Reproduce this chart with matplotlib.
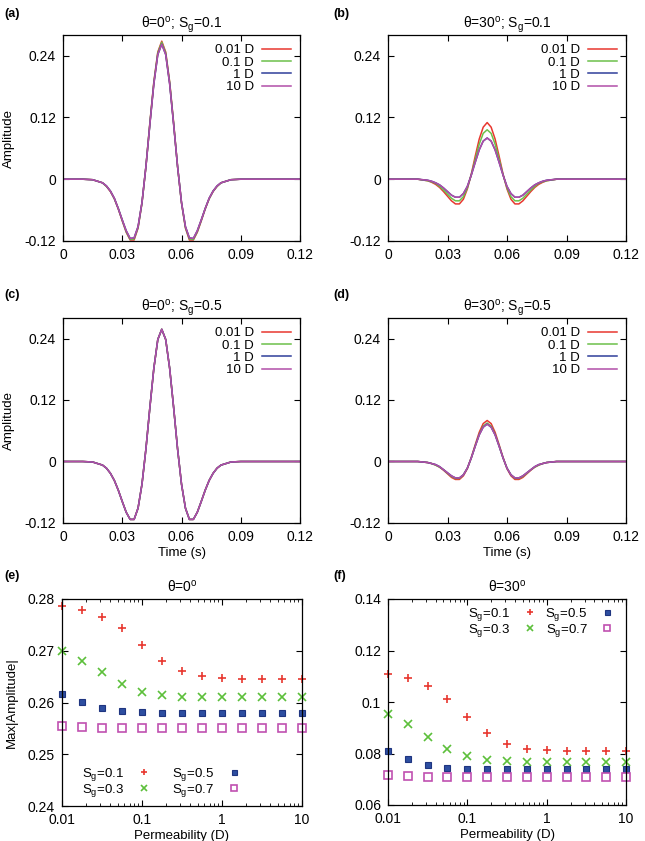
import matplotlib
matplotlib.use("Agg")
import matplotlib.pyplot as plt
from matplotlib.ticker import LogLocator, NullFormatter

plt.rcParams['font.family'] = ['Liberation Sans', 'DejaVu Sans']
plt.rcParams['mathtext.fontset'] = 'custom'
plt.rcParams['mathtext.rm'] = 'Liberation Sans'
plt.rcParams['mathtext.it'] = 'Liberation Sans:italic'
plt.rcParams['font.size'] = 10

# time axis (s)
time = [0, 0.010, 0.015, 0.020, 0.022, 0.024, 0.026, 0.028, 0.030, 0.032, 0.034,
        0.036, 0.038, 0.040, 0.042, 0.044, 0.046, 0.048, 0.050, 0.052, 0.054,
        0.056, 0.058, 0.060, 0.062, 0.064, 0.066, 0.068, 0.070, 0.072, 0.074,
        0.076, 0.078, 0.080, 0.085, 0.090, 0.120]

perm_labels = ["0.01 D", "0.1 D", "1 D", "10 D"]

# (a) theta=0, Sg=0.1
a_001 = [0, 0, -0.001, -0.007, -0.014, -0.024, -0.038, -0.058, -0.081, -0.103, -0.118, -0.118,
         -0.095, -0.046, 0.025, 0.110, 0.189, 0.247, 0.268, 0.247, 0.189, 0.110, 0.025, -0.046,
         -0.095, -0.118, -0.118, -0.103, -0.081, -0.058, -0.038, -0.024, -0.014, -0.007, -0.001, 0, 0]
a_01 = [0, 0, -0.001, -0.007, -0.014, -0.023, -0.038, -0.057, -0.080, -0.102, -0.117, -0.116,
        -0.094, -0.046, 0.025, 0.109, 0.188, 0.245, 0.266, 0.245, 0.188, 0.109, 0.025, -0.046,
        -0.094, -0.116, -0.117, -0.102, -0.080, -0.057, -0.038, -0.023, -0.014, -0.007, -0.001, 0, 0]
a_1 = [0, 0, -0.001, -0.007, -0.013, -0.023, -0.037, -0.057, -0.079, -0.100, -0.115, -0.114,
       -0.092, -0.045, 0.025, 0.107, 0.185, 0.242, 0.262, 0.242, 0.185, 0.107, 0.025, -0.045,
       -0.092, -0.114, -0.115, -0.100, -0.079, -0.057, -0.037, -0.023, -0.013, -0.007, -0.001, 0, 0]
a_10 = [0, 0, -0.001, -0.007, -0.013, -0.023, -0.037, -0.057, -0.079, -0.100, -0.115, -0.114,
        -0.092, -0.045, 0.025, 0.107, 0.185, 0.242, 0.262, 0.242, 0.185, 0.107, 0.025, -0.045,
        -0.092, -0.114, -0.115, -0.100, -0.079, -0.057, -0.037, -0.023, -0.013, -0.007, -0.001, 0, 0]

# (b) theta=30, Sg=0.1
b_001 = [0, 0, 0, -0.003, -0.006, -0.010, -0.016, -0.024, -0.033, -0.042, -0.048, -0.048,
         -0.039, -0.019, 0.010, 0.045, 0.078, 0.101, 0.110, 0.101, 0.078, 0.045, 0.010, -0.019,
         -0.039, -0.048, -0.048, -0.042, -0.033, -0.024, -0.016, -0.010, -0.006, -0.003, 0, 0, 0]
b_01 = [0, 0, 0, -0.003, -0.005, -0.008, -0.014, -0.021, -0.029, -0.037, -0.042, -0.042,
        -0.034, -0.017, 0.009, 0.039, 0.068, 0.089, 0.096, 0.089, 0.068, 0.039, 0.009, -0.017,
        -0.034, -0.042, -0.042, -0.037, -0.029, -0.021, -0.014, -0.008, -0.005, -0.003, 0, 0, 0]
b_1 = [0, 0, 0, -0.002, -0.004, -0.007, -0.011, -0.017, -0.024, -0.031, -0.035, -0.035,
       -0.028, -0.014, 0.008, 0.033, 0.057, 0.074, 0.080, 0.074, 0.057, 0.033, 0.008, -0.014,
       -0.028, -0.035, -0.035, -0.031, -0.024, -0.017, -0.011, -0.007, -0.004, -0.002, 0, 0, 0]
b_10 = [0, 0, 0, -0.002, -0.004, -0.007, -0.011, -0.017, -0.024, -0.031, -0.035, -0.035,
        -0.028, -0.014, 0.008, 0.033, 0.057, 0.074, 0.080, 0.074, 0.057, 0.033, 0.008, -0.014,
        -0.028, -0.035, -0.035, -0.031, -0.024, -0.017, -0.011, -0.007, -0.004, -0.002, 0, 0, 0]

# (c) theta=0, Sg=0.5
c_001 = [0, 0, -0.001, -0.007, -0.013, -0.023, -0.037, -0.056, -0.078, -0.099, -0.113, -0.113,
         -0.091, -0.044, 0.025, 0.106, 0.182, 0.238, 0.258, 0.238, 0.182, 0.106, 0.025, -0.044,
         -0.091, -0.113, -0.113, -0.099, -0.078, -0.056, -0.037, -0.023, -0.013, -0.007, -0.001, 0, 0]
c_01 = list(c_001)
c_1 = list(c_001)
c_10 = list(c_001)

# (d) theta=30, Sg=0.5
d_001 = [0, 0, 0, -0.002, -0.004, -0.007, -0.011, -0.017, -0.024, -0.031, -0.035, -0.035,
         -0.028, -0.014, 0.008, 0.033, 0.057, 0.074, 0.080, 0.074, 0.057, 0.033, 0.008, -0.014,
         -0.028, -0.035, -0.035, -0.031, -0.024, -0.017, -0.011, -0.007, -0.004, -0.002, 0, 0, 0]
d_01 = [0, 0, 0, -0.002, -0.004, -0.007, -0.011, -0.016, -0.023, -0.029, -0.033, -0.033,
        -0.026, -0.013, 0.007, 0.031, 0.053, 0.069, 0.075, 0.069, 0.053, 0.031, 0.007, -0.013,
        -0.026, -0.033, -0.033, -0.029, -0.023, -0.016, -0.011, -0.007, -0.004, -0.002, 0, 0, 0]
d_1 = [0, 0, 0, -0.002, -0.004, -0.006, -0.010, -0.016, -0.022, -0.028, -0.032, -0.032,
       -0.026, -0.013, 0.007, 0.030, 0.052, 0.067, 0.073, 0.067, 0.052, 0.030, 0.007, -0.013,
       -0.026, -0.032, -0.032, -0.028, -0.022, -0.016, -0.010, -0.006, -0.004, -0.002, 0, 0, 0]
d_10 = list(d_1)

# (e), (f) peak amplitude vs permeability
perm = [0.01, 0.0178, 0.0316, 0.0562, 0.1, 0.178, 0.316, 0.562, 1, 1.78, 3.16, 5.62, 10]
e_sg01 = [0.2786, 0.2779, 0.2765, 0.2743, 0.2712, 0.2681, 0.2661, 0.2651, 0.2647, 0.2645, 0.2645, 0.2645, 0.2645]
e_sg03 = [0.2700, 0.2681, 0.2658, 0.2636, 0.2620, 0.2614, 0.2611, 0.2610, 0.2610, 0.2610, 0.2610, 0.2610, 0.2610]
e_sg05 = [0.2617, 0.2601, 0.2589, 0.2584, 0.2581, 0.2580, 0.2580, 0.2580, 0.2580, 0.2580, 0.2580, 0.2580, 0.2580]
e_sg07 = [0.2555, 0.2553, 0.2551, 0.2551, 0.2551, 0.2551, 0.2551, 0.2551, 0.2551, 0.2551, 0.2551, 0.2551, 0.2551]
f_sg01 = [0.1107, 0.1092, 0.1062, 0.1012, 0.0943, 0.0880, 0.0837, 0.0817, 0.0812, 0.0811, 0.0811, 0.0811, 0.0808]
f_sg03 = [0.0955, 0.0915, 0.0864, 0.0817, 0.0789, 0.0775, 0.0770, 0.0768, 0.0768, 0.0768, 0.0768, 0.0768, 0.0768]
f_sg05 = [0.0811, 0.0779, 0.0757, 0.0745, 0.0740, 0.0739, 0.0739, 0.0739, 0.0739, 0.0739, 0.0739, 0.0739, 0.0739]
f_sg07 = [0.0718, 0.0711, 0.0709, 0.0709, 0.0709, 0.0709, 0.0709, 0.0709, 0.0709, 0.0709, 0.0709, 0.0709, 0.0709]
sg_labels = ["S$_\\mathrm{g}$=0.1", "S$_\\mathrm{g}$=0.3", "S$_\\mathrm{g}$=0.5", "S$_\\mathrm{g}$=0.7"]

line_colors = ['#e8372f', '#6cc04a', '#2f3f9a', '#b24ea8']
pt_colors = ['#e8372f', '#5cbf3a', '#2d4ea0', '#c050b0']
pt_markers = ['+', 'x', 's', 's']

W, H = 645, 841
fig = plt.figure(figsize=(W / 100, H / 100), dpi=100)

def ax_at(x0, y0, x1, y1):
    return fig.add_axes([x0 / W, 1 - y1 / H, (x1 - x0) / W, (y1 - y0) / H])

def tag_at(x, y, s):
    fig.text(x / W, 1 - y / H, s, fontsize=9, fontweight='bold', va='center', ha='left')

def style(ax):
    ax.tick_params(direction='in', top=True, right=True, length=4, width=0.8, labelsize=10, pad=5)
    ax.tick_params(which='minor', direction='in', top=True, right=True, length=2, width=0.6)
    for s in ax.spines.values():
        s.set_linewidth(0.9)

wave_panels = [
    ("(a)", (4, 14), "θ=0$^\\mathrm{o}$; S$_\\mathrm{g}$=0.1", (63, 35, 300, 241), [a_001, a_01, a_1, a_10], True, False),
    ("(b)", (333, 14), "θ=30$^\\mathrm{o}$; S$_\\mathrm{g}$=0.1", (388, 35, 626, 241), [b_001, b_01, b_1, b_10], False, False),
    ("(c)", (4, 295), "θ=0$^\\mathrm{o}$; S$_\\mathrm{g}$=0.5", (63, 318, 300, 523), [c_001, c_01, c_1, c_10], True, True),
    ("(d)", (333, 295), "θ=30$^\\mathrm{o}$; S$_\\mathrm{g}$=0.5", (388, 318, 626, 523), [d_001, d_01, d_1, d_10], False, True),
]

for tag, tpos, title, box, curves, ylab, xlab in wave_panels:
    ax = ax_at(*box)
    for vals, lab, col in zip(curves, perm_labels, line_colors):
        ax.plot(time, vals, color=col, lw=1.1, label=lab)
    ax.set_xlim(0, 0.12)
    ax.set_ylim(-0.12, 0.28)
    ax.set_xticks([0, 0.03, 0.06, 0.09, 0.12])
    ax.set_xticklabels(["0", "0.03", "0.06", "0.09", "0.12"])
    ax.set_yticks([-0.12, 0, 0.12, 0.24])
    ax.set_yticklabels(["-0.12", "0", "0.12", "0.24"])
    style(ax)
    ax.set_title(title, fontsize=10, pad=5)
    if ylab:
        ax.set_ylabel("Amplitude", fontsize=9.5, labelpad=7)
    if xlab:
        ax.set_xlabel("Time (s)", fontsize=9.5, labelpad=2)
    ax.legend(loc='upper right', frameon=False, markerfirst=False, fontsize=9.5,
              handlelength=2.2, labelspacing=0.0, borderaxespad=0.3, handletextpad=0.6)
    tag_at(tpos[0], tpos[1], tag)

scatter_panels = [
    ("(e)", (4, 576), "θ=0$^\\mathrm{o}$", (62, 599, 302, 806), [e_sg01, e_sg03, e_sg05, e_sg07],
     (0.24, 0.28), [0.24, 0.25, 0.26, 0.27, 0.28], 'lower left', (0.085, 0.035), 1.5, True),
    ("(f)", (333, 576), "θ=30$^\\mathrm{o}$", (388, 599, 626, 805), [f_sg01, f_sg03, f_sg05, f_sg07],
     (0.06, 0.14), [0.06, 0.08, 0.1, 0.12, 0.14], 'upper right', (0.955, 0.965), 0.6, False),
]

for tag, tpos, title, box, series, ylim, yt, loc, anchor, colsp, ylab in scatter_panels:
    ax = ax_at(*box)
    for i, (vals, lab, col, mk) in enumerate(zip(series, sg_labels, pt_colors, pt_markers)):
        if i == 3:
            ax.plot(perm, vals, ls='none', marker=mk, ms=5.5, mfc='none', mec=col, mew=1.2,
                    label=lab, clip_on=False)
        elif i == 2:
            ax.plot(perm, vals, ls='none', marker=mk, ms=4.5, mfc=col, mec='#1f3580', mew=0.8,
                    label=lab, clip_on=False)
        else:
            ax.plot(perm, vals, ls='none', marker=mk, ms=6, color=col, mew=1.2, label=lab,
                    clip_on=False)
    ax.set_xscale('log')
    ax.set_xlim(0.01, 10)
    ax.set_ylim(*ylim)
    ax.set_xticks([0.01, 0.1, 1, 10])
    ax.set_xticklabels(["0.01", "0.1", "1", "10"])
    ax.xaxis.set_minor_locator(LogLocator(base=10, subs=range(2, 10)))
    ax.xaxis.set_minor_formatter(NullFormatter())
    ax.set_yticks(yt)
    ax.set_yticklabels([f"{v:g}" for v in yt])
    style(ax)
    ax.set_title(title, fontsize=10, pad=5)
    if ylab:
        ax.set_ylabel("Max|Amplitude|", fontsize=9.5, labelpad=7)
    ax.set_xlabel("Permeability (D)", fontsize=9.5, labelpad=2)
    ax.legend(loc=loc, bbox_to_anchor=anchor, ncol=2, frameon=False, markerfirst=False,
              fontsize=9.5, handlelength=1.2, labelspacing=-0.1, columnspacing=colsp,
              borderaxespad=0, borderpad=0, handletextpad=0.9, markerscale=0.8)
    tag_at(tpos[0], tpos[1], tag)

fig.savefig("out.png", dpi=100)
